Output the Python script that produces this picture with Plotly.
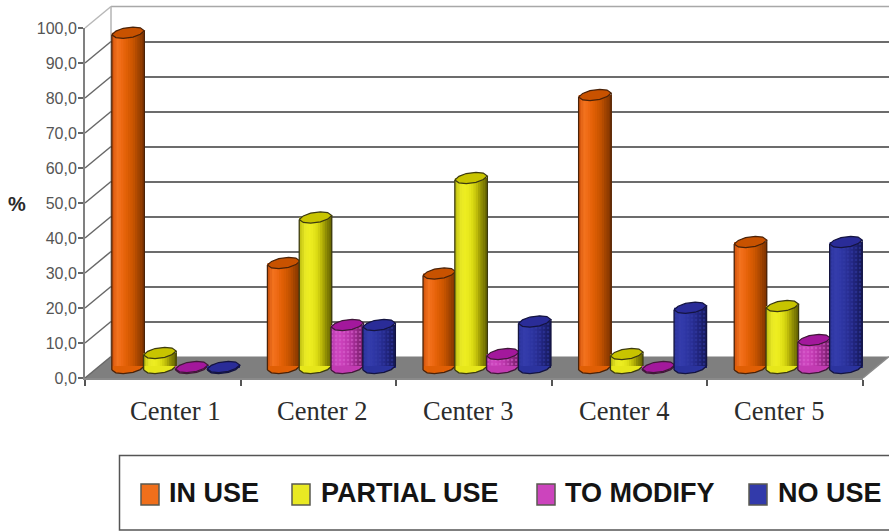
import plotly.graph_objects as go

# Survey shares per centre, in percent
centers = ["Center 1", "Center 2", "Center 3", "Center 4", "Center 5"]
in_use = [95.8, 30.0, 27.0, 78.0, 36.0]
partial_use = [4.3, 43.0, 54.3, 4.0, 17.7]
to_modify = [0.3, 12.3, 4.0, 0.3, 8.0]
no_use = [0.3, 12.3, 13.3, 17.2, 36.0]
series_names = ["IN USE", "PARTIAL USE", "TO MODIFY", "NO USE"]
y_ticks = [0, 10, 20, 30, 40, 50, 60, 70, 80, 90, 100]
y_tick_labels = ["0,0", "10,0", "20,0", "30,0", "40,0", "50,0", "60,0", "70,0", "80,0", "90,0", "100,0"]

W, H = 889, 531


def px(x):
    return x / W


def py(y):
    return 1 - y / H


# Oblique chart box, in pixels
FX0, FX1, FY0, FY100 = 85, 863, 378, 28      # front plane
DX, DY = 26, -21.5                           # depth offset of the back wall
MX0, MY0 = 98, 368                           # plane the columns stand on
UX = (FX1 - FX0) / 5
UY = (FY0 - FY100) / 100

BAR_W = 0.209
BAR_STEP = 0.2044
STRIPS = 14
RX, RY, TILT = BAR_W / 2, 5 / UY, 2 / UY     # cylinder cap half-axes and slant
CAP_SIDES = [(-1.0, 0.0), (-0.75, 0.62), (-0.3, 1.0), (0.3, 1.0), (0.75, 0.68), (1.0, 0.0),
             (0.75, -0.62), (0.3, -1.0), (-0.3, -1.0), (-0.75, -0.68), (-1.0, 0.0)]
LOWER_SIDES = [(1.0, 0.0), (0.75, -0.62), (0.3, -1.0), (-0.3, -1.0), (-0.75, -0.68), (-1.0, 0.0)]

styles = [
    dict(ramp=["#d8590f", "#f2731f", "#ee6a14", "#e26006", "#d45a02", "#bf5000", "#a04300", "#843600"],
         cap="#c85200", edge="#4a2208", dots=None),
    dict(ramp=["#c4c414", "#e6e624", "#eeee22", "#e8e81c", "#d8d812", "#b8b408", "#8c8a04", "#6c6a02"],
         cap="#c8c400", edge="#3c3a10", dots=None),
    dict(ramp=["#b83cae", "#cc46be", "#cc42bc", "#c43cb4", "#b834a8", "#a42c96", "#8c247e", "#741c68"],
         cap="#a3189c", edge="#401838", dots="#dc68d2"),
    dict(ramp=["#2c349c", "#343cac", "#3038a8", "#2c34a0", "#282e94", "#222684", "#1c2070", "#161a5c"],
         cap="#2a2c98", edge="#141440", dots="#343ca8"),
]
series_values = [in_use, partial_use, to_modify, no_use]


def mix(stops, t):
    pos = t * (len(stops) - 1)
    i = min(int(pos), len(stops) - 2)
    f = pos - i
    a = [int(stops[i][k:k + 2], 16) for k in (1, 3, 5)]
    b = [int(stops[i + 1][k:k + 2], 16) for k in (1, 3, 5)]
    return "rgb(%d,%d,%d)" % tuple(round(a[n] + (b[n] - a[n]) * f) for n in range(3))


fig = go.Figure()

# Back wall gridlines live on their own axes, shifted up and to the right
fig.add_trace(go.Scatter(x=[0], y=[0], xaxis="x2", yaxis="y2", mode="markers",
                         marker=dict(opacity=0), hoverinfo="skip", showlegend=False))
# Front plane carries the visible value axis and the group ticks
fig.add_trace(go.Scatter(x=[0], y=[0], xaxis="x", yaxis="y", mode="markers",
                         marker=dict(opacity=0), hoverinfo="skip", showlegend=False))

for s, (name, values, st) in enumerate(zip(series_names, series_values, styles)):
    ax = str(s + 3)
    centres = [k + 0.5 + (s - 1.5) * BAR_STEP for k in range(len(centers))]

    # Shaded body: nested strips, light on the left and dark on the right
    for k in range(STRIPS):
        left = k / STRIPS * BAR_W
        marker = dict(color=mix(st["ramp"], k / (STRIPS - 1)), line=dict(width=0))
        if st["dots"]:
            marker["pattern"] = dict(shape=".", size=4, solidity=0.3, fgcolor=st["dots"])
        fig.add_trace(go.Bar(x=centres, y=values, xaxis="x" + ax, yaxis="y" + ax,
                             width=BAR_W - left, offset=-BAR_W / 2 + left,
                             marker=marker, name=name, hoverinfo="skip", showlegend=False))

    # Rounded underside, filled in one tone from just above the base line
    bx, by = [], []
    for c in centres:
        bx.append(c + RX)
        by.append(TILT)
        for a, b in LOWER_SIDES:
            bx.append(c + a * RX)
            by.append(b * RY + a * TILT)
        bx += [c - RX, c + RX, None]
        by += [TILT, TILT, None]
    fig.add_trace(go.Scatter(x=bx, y=by, xaxis="x" + ax, yaxis="y" + ax, mode="lines", fill="toself",
                             fillcolor=mix(st["ramp"], 0.45), line=dict(width=0),
                             hoverinfo="skip", showlegend=False))

    # Silhouette along the sides and the curved lower edge
    lx, ly = [], []
    for c, v in zip(centres, values):
        lx += [c - RX, c - RX, None, c + RX, c + RX, None]
        ly += [v - TILT, -TILT, None, v + TILT, TILT, None]
        for a, b in LOWER_SIDES:
            lx.append(c + a * RX)
            ly.append(b * RY + a * TILT)
        lx.append(None)
        ly.append(None)
    fig.add_trace(go.Scatter(x=lx, y=ly, xaxis="x" + ax, yaxis="y" + ax, mode="lines",
                             line=dict(color=st["edge"], width=1.3), hoverinfo="skip", showlegend=False))

    # Top cap
    tx, ty = [], []
    for c, v in zip(centres, values):
        for a, b in CAP_SIDES:
            tx.append(c + a * RX)
            ty.append(v + b * RY + a * TILT)
        tx.append(None)
        ty.append(None)
    fig.add_trace(go.Scatter(x=tx, y=ty, xaxis="x" + ax, yaxis="y" + ax, mode="lines", fill="toself",
                             fillcolor=st["cap"], line=dict(color=st["edge"], width=1.2),
                             hoverinfo="skip", showlegend=False))

shapes = []


def seg(x0, y0, x1, y1, color, width):
    shapes.append(dict(type="line", xref="paper", yref="paper", x0=px(x0), y0=py(y0), x1=px(x1), y1=py(y1),
                       line=dict(color=color, width=width), layer="below"))


# Floor
shapes.append(dict(type="path", xref="paper", yref="paper", layer="below", fillcolor="#7f7f7f",
                   line=dict(width=0),
                   path="M%f,%f L%f,%f L%f,%f L%f,%f Z" % (
                       px(FX0), py(FY0), px(FX1), py(FY0),
                       px(FX1 + DX), py(FY0 + DY), px(FX0 + DX), py(FY0 + DY))))
# Left wall edges and the slanted grid lines leading back from each tick
seg(FX0 + DX, FY100 + DY, FX1 + DX, FY100 + DY, "#a8a8a8", 1.5)
seg(FX0 + DX, FY100 + DY, FX0 + DX, FY0 + DY, "#b4b4b4", 1.5)
seg(FX0, FY100, FX0 + DX, FY100 + DY, "#b8b8b8", 1.5)
for t in y_ticks[:-1]:
    yy = FY0 - t * UY
    seg(FX0, yy, FX0 + DX, yy + DY, "#686868", 1.5)
seg(FX1, FY0, FX1 + DX, FY0 + DY, "#8a8a8a", 1.5)

# Legend frame and swatches
shapes.append(dict(type="rect", xref="paper", yref="paper", x0=px(119.5), x1=px(895), y0=py(455.5), y1=py(530),
                   line=dict(color="#555555", width=1.5), fillcolor="white", layer="below"))
annotations = []
legend_items = [(141, 167), (292, 319), (537, 563), (749, 776)]
for (sx, tx_), name, st in zip(legend_items, series_names, styles):
    shapes.append(dict(type="rect", xref="paper", yref="paper", x0=px(sx), x1=px(sx + 18), y0=py(484), y1=py(505),
                       fillcolor=mix(st["ramp"], 0.2), line=dict(color="#5a5a50", width=1.5), layer="below"))
    annotations.append(dict(xref="paper", yref="paper", x=px(tx_), y=py(493), text="<b>%s</b>" % name,
                            showarrow=False, xanchor="left", yanchor="middle",
                            font=dict(family="Liberation Sans", size=27, color="#141414")))

# Category names
label_x = [175.5, 322, 468, 624, 779]
for lx_, c in zip(label_x, centers):
    annotations.append(dict(xref="paper", yref="paper", x=px(lx_), y=py(411), text=c, showarrow=False,
                            xanchor="center", yanchor="middle",
                            font=dict(family="Liberation Serif", size=26.5, color="#2c2c2c")))
annotations.append(dict(xref="paper", yref="paper", x=px(17), y=py(204), text="<b>%</b>", showarrow=False,
                        xanchor="center", yanchor="middle",
                        font=dict(family="Liberation Sans", size=20, color="#2a2a2a")))

hidden = dict(visible=False, fixedrange=True)
layout = dict(
    width=W, height=H, autosize=False, margin=dict(l=0, r=0, t=0, b=0, autoexpand=False),
    paper_bgcolor="white", plot_bgcolor="rgba(0,0,0,0)", showlegend=False,
    barmode="overlay", shapes=shapes, annotations=annotations,
    xaxis=dict(domain=[px(FX0), px(FX1)], range=[0, 5], tickmode="array", tickvals=[0, 1, 2, 3, 4, 5],
               showticklabels=False, ticks="outside", ticklen=6, tickcolor="#555555", tickwidth=1.5,
               showgrid=False, zeroline=False, showline=True, linecolor="#8a8a8a", linewidth=2,
               anchor="y", fixedrange=True),
    yaxis=dict(domain=[py(FY0), py(FY100)], range=[0, 100], tickmode="array", tickvals=y_ticks,
               ticktext=y_tick_labels, ticks="outside", ticklen=5, tickcolor="#666666", tickwidth=2,
               ticklabelstandoff=-2,
               tickfont=dict(family="Liberation Sans", size=16, color="#555555"),
               showgrid=False, zeroline=False, showline=True, linecolor="#808080", linewidth=2,
               anchor="x", fixedrange=True),
    xaxis2=dict(domain=[px(FX0 + DX), 1], range=[0, 5], anchor="y2", **hidden),
    yaxis2=dict(domain=[py(FY0 + DY), py(FY100 + DY)], range=[0, 100], anchor="x2", tickmode="array",
                tickvals=y_ticks[1:-1], showgrid=True, gridcolor="#6c6c6c", gridwidth=2, showticklabels=False,
                ticks="", zeroline=False, showline=False, fixedrange=True),
)
# One axis pair per series so later columns paint over earlier ones
for s in range(4):
    n = str(s + 3)
    layout["xaxis" + n] = dict(domain=[px(MX0), px(MX0 + 5 * UX)], range=[0, 5], anchor="y" + n, **hidden)
    layout["yaxis" + n] = dict(domain=[py(MY0 + 5 * UY), py(MY0 - 100 * UY)], range=[-5, 100], anchor="x" + n, **hidden)

fig.update_layout(**layout)
fig.write_html("out.html")
